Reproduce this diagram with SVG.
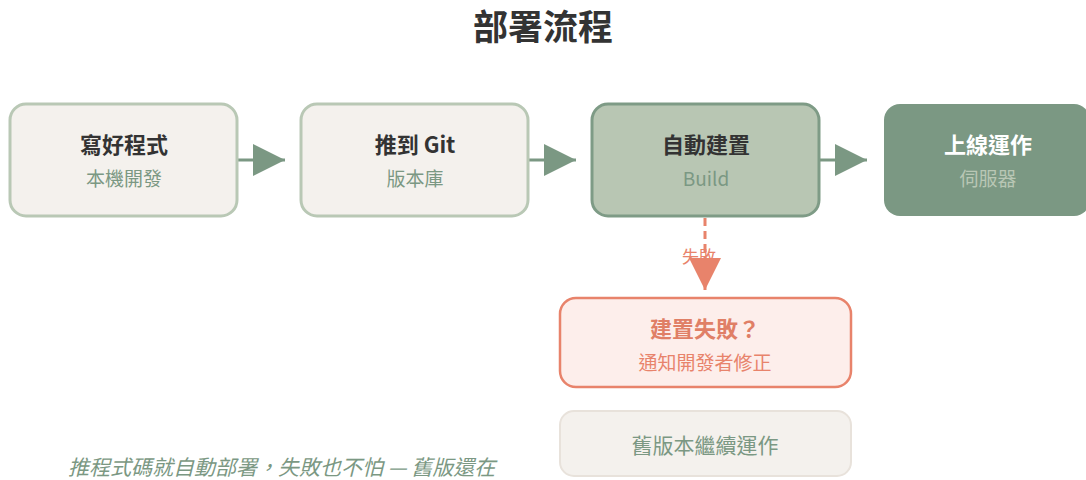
<svg xmlns="http://www.w3.org/2000/svg" width="1086" height="480" viewBox="0 0 1086 480">
<defs>
<style>
text{font-family:"Noto Sans CJK TC","Noto Sans CJK SC",sans-serif;text-anchor:middle}
.t{font-size:22px;font-weight:bold;fill:#333}
.s{font-size:19px;fill:#7b9883}
.light{fill:#f4f1ed;stroke:#b9c8b5;stroke-width:3}
.conn{stroke:#7b9883;stroke-width:3;fill:none}
</style>
<marker id="ah" markerWidth="32" markerHeight="32" refX="32" refY="16" markerUnits="userSpaceOnUse" orient="auto"><path d="M0,0 L32,16 L0,32 Z" fill="#7b9883"/></marker>
<marker id="ahr" markerWidth="32" markerHeight="32" refX="32" refY="16" markerUnits="userSpaceOnUse" orient="auto"><path d="M0,0 L32,16 L0,32 Z" fill="#e8836b"/></marker>
</defs>
<rect width="1086" height="480" fill="#ffffff"/>
<text x="543" y="40" style="font-size:35px;font-weight:bold;fill:#333">部署流程</text>
<g id="connectors">
<line class="conn" x1="237" y1="160" x2="285" y2="160" marker-end="url(#ah)"/>
<line class="conn" x1="528" y1="160" x2="576" y2="160" marker-end="url(#ah)"/>
<line class="conn" x1="819" y1="160" x2="867" y2="160" marker-end="url(#ah)"/>
<line x1="705" y1="218" x2="705" y2="290" stroke="#e8836b" stroke-width="3" stroke-dasharray="8,5" marker-end="url(#ahr)"/>
<text x="796" y="146" style="font-size:17px;fill:#7b9883">成功</text>
<text x="699" y="263" style="font-size:17px;fill:#e8836b">失敗</text>
</g>
<g id="node-write">
<rect class="light" x="10" y="104" width="227" height="112" rx="16"/>
<text class="t" x="124" y="153">寫好程式</text>
<text class="s" x="124" y="186">本機開發</text>
</g>
<g id="node-push">
<rect class="light" x="301" y="104" width="227" height="112" rx="16"/>
<text class="t" x="415" y="153">推到 Git</text>
<text class="s" x="415" y="186">版本庫</text>
</g>
<g id="node-build">
<rect x="592" y="104" width="227" height="112" rx="16" fill="#b8c6b3" stroke="#7e9b86" stroke-width="3"/>
<text class="t" x="706" y="153">自動建置</text>
<text class="s" x="706" y="186">Build</text>
</g>
<g id="node-live">
<rect x="884" y="104" width="206" height="112" rx="16" fill="#7b9883"/>
<text class="t" x="988" y="153" style="fill:#fff">上線運作</text>
<text class="s" x="988" y="186" style="fill:#b9c7b5">伺服器</text>
</g>
<g id="node-fail">
<rect x="560" y="298" width="291" height="89" rx="16" fill="#fdeeeb" stroke="#e8836b" stroke-width="2.5"/>
<text x="705" y="337" style="font-size:22px;font-weight:bold;fill:#e07f66">建置失敗？</text>
<text x="705" y="370" style="font-size:19px;fill:#e8836b">通知開發者修正</text>
</g>
<g id="node-old">
<rect x="560" y="411" width="291" height="65" rx="14" fill="#f4f1ed" stroke="#e8e2db" stroke-width="2"/>
<text x="705" y="453" style="font-size:21px;fill:#7b9883">舊版本繼續運作</text>
</g>
<text x="68" y="475" style="font-size:21px;font-style:italic;fill:#7b9883;text-anchor:start">推程式碼就自動部署，失敗也不怕 — 舊版還在</text>
</svg>
